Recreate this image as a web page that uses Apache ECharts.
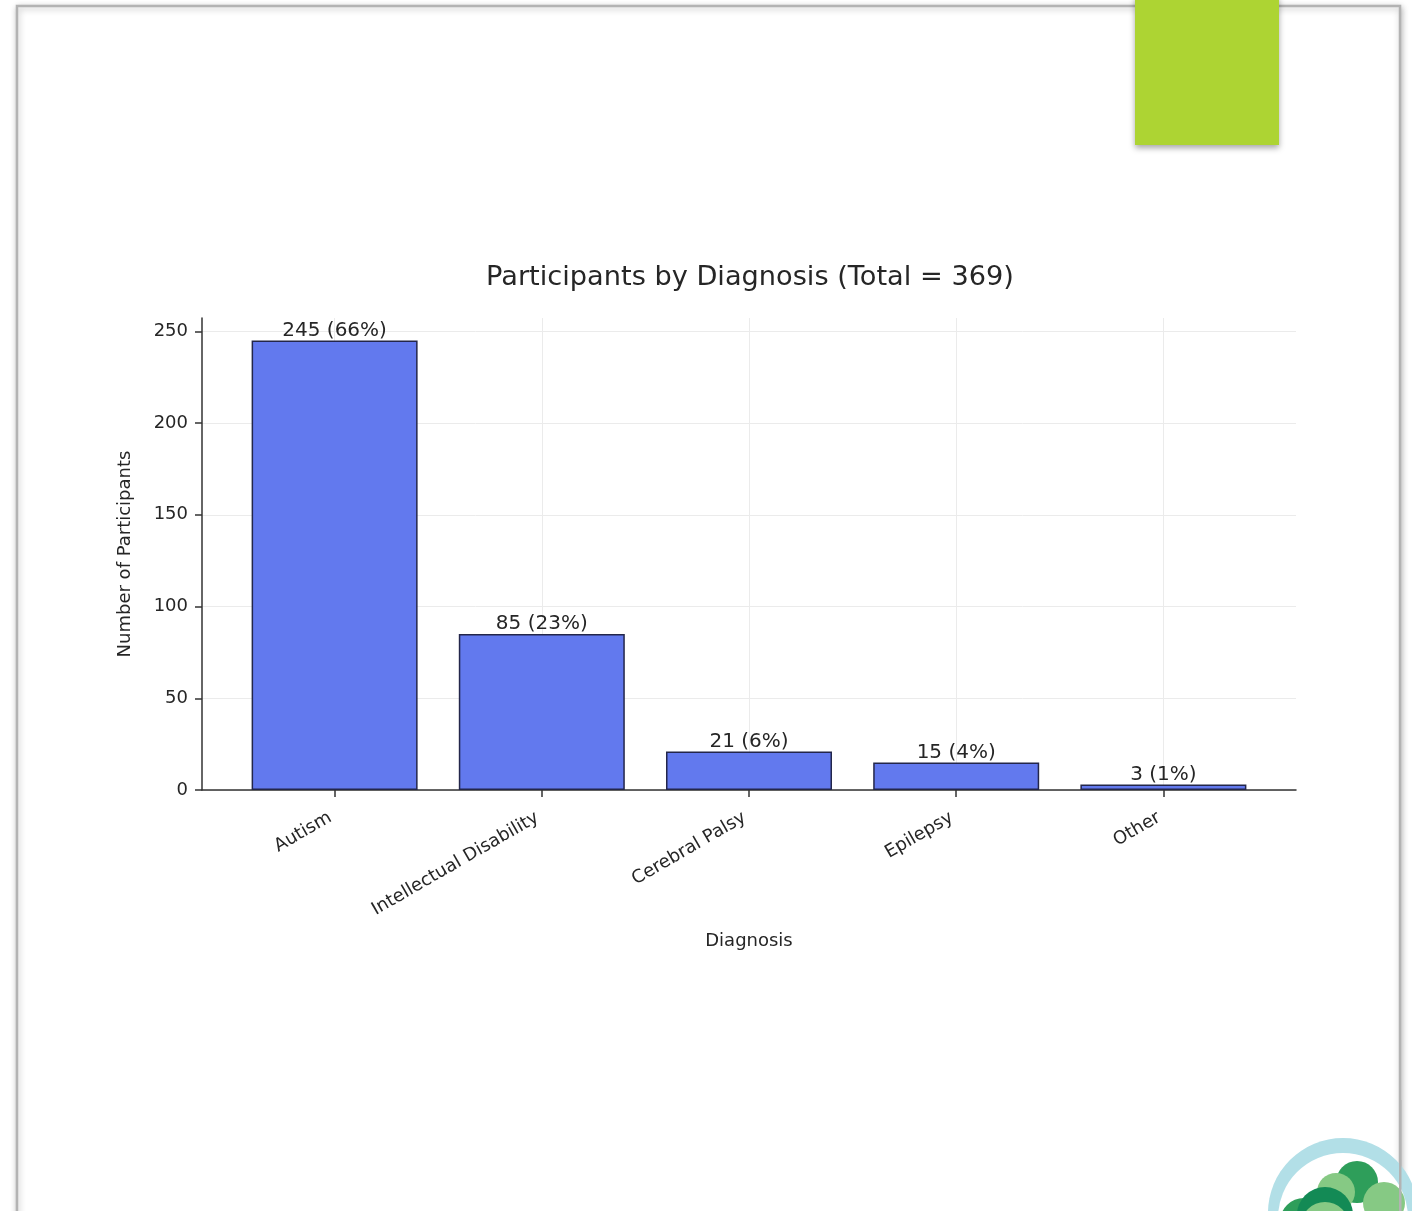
<!DOCTYPE html>
<html>
<head>
<meta charset="utf-8">
<script src="https://cdn.jsdelivr.net/npm/echarts@6/dist/echarts.min.js"></script>
<style>
html,body{margin:0;padding:0;background:#fff;}
#chart{width:1412px;height:1211px;}
</style>
</head>
<body>
<div id="chart"></div>
<script>
const categories = ['Autism', 'Intellectual Disability', 'Cerebral Palsy', 'Epilepsy', 'Other'];
const counts = [245, 85, 21, 15, 3];
const yTicks = [0, 50, 100, 150, 200, 250];
const titleText = 'Participants by Diagnosis (Total = 369)';
const xName = 'Diagnosis';
const yName = 'Number of Participants';

const total = counts.reduce((a, b) => a + b, 0);
const catIdx = categories.map((c, i) => i);
const barData = counts.map((v, i) => [i, v]);
const FONT = 'DejaVu Sans';
const TXT = '#262626';

const chart = echarts.init(document.getElementById('chart'), null, {renderer: 'canvas'});
chart.setOption({
  animation: false,
  backgroundColor: '#fff',
  title: {
    text: titleText,
    left: 745,
    top: 259,
    textAlign: 'center',
    textStyle: {fontFamily: FONT, fontSize: 27.2, fontWeight: 'normal', color: TXT}
  },
  grid: {left: 202, right: 116, top: 318, bottom: 421, containLabel: false},
  xAxis: {
    type: 'value',
    min: -0.64,
    max: 4.64,
    name: xName,
    nameLocation: 'middle',
    nameGap: 142,
    nameTextStyle: {fontFamily: FONT, fontSize: 18, color: TXT},
    axisLine: {show: true, onZero: false, lineStyle: {color: '#333', width: 1.5}},
    axisTick: {show: true, customValues: catIdx, length: 7, lineStyle: {color: '#333', width: 1.5}},
    axisLabel: {
      customValues: catIdx,
      rotate: 30,
      margin: 24,
      padding: [0, 5, 0, 0],
      fontFamily: FONT, fontSize: 18, color: TXT,
      formatter: v => categories[Math.round(v)] || ''
    },
    splitLine: {show: true, lineStyle: {color: '#ebebeb', width: 1}}
  },
  yAxis: {
    type: 'value',
    min: 0,
    max: 257.25,
    name: yName,
    nameLocation: 'middle',
    nameGap: 68,
    nameTextStyle: {fontFamily: FONT, fontSize: 18, color: TXT},
    axisLine: {show: true, onZero: false, lineStyle: {color: '#333', width: 1.5}},
    axisTick: {show: true, customValues: yTicks, length: 7, lineStyle: {color: '#333', width: 1.5}},
    axisLabel: {customValues: yTicks, margin: 14, fontFamily: FONT, fontSize: 18, color: TXT},
    splitLine: {show: true, lineStyle: {color: '#ebebeb', width: 1}}
  },
  series: [{
    type: 'bar',
    data: barData,
    barWidth: 166,
    itemStyle: {color: '#6279ee', borderColor: '#23264a', borderWidth: 1.5},
    label: {
      show: true,
      position: 'top',
      distance: 0,
      fontFamily: FONT, fontSize: 20, color: TXT,
      formatter: p => p.value[1] + ' (' + Math.round(p.value[1] / total * 100) + '%)'
    }
  }],
  graphic: [
    // page frame with soft shadow
    {type: 'rect', z: -10, shape: {x: 17, y: 6, width: 1383, height: 1240},
     style: {fill: '#fff', stroke: '#b3b3b3', lineWidth: 2.5, shadowBlur: 6, shadowColor: 'rgba(0,0,0,0.25)', shadowOffsetX: 1, shadowOffsetY: 2}},
    // green accent block
    {type: 'rect', z: 10, shape: {x: 1135, y: -5, width: 144, height: 150},
     style: {fill: '#add433', shadowBlur: 6, shadowColor: 'rgba(0,0,0,0.35)', shadowOffsetY: 3}},
    // logo (decoration)
    {type: 'group', z: 10, children: [
      {type: 'circle', shape: {cx: 1343, cy: 1213, r: 75}, style: {fill: '#b2dfe7'}},
      {type: 'circle', shape: {cx: 1343, cy: 1218, r: 65}, style: {fill: '#fff'}},
      {type: 'circle', shape: {cx: 1357, cy: 1182, r: 21}, style: {fill: '#2e9e5a'}},
      {type: 'circle', shape: {cx: 1336, cy: 1192, r: 19}, style: {fill: '#86c984'}},
      {type: 'circle', shape: {cx: 1384, cy: 1203, r: 21}, style: {fill: '#86c984'}},
      {type: 'circle', shape: {cx: 1304, cy: 1222, r: 24}, style: {fill: '#2e9e5a'}},
      {type: 'circle', shape: {cx: 1325, cy: 1215, r: 28}, style: {fill: '#138a55'}},
      {type: 'circle', shape: {cx: 1325, cy: 1226, r: 24}, style: {fill: '#86c984'}},
      {type: 'rect', shape: {x: 1399, y: 1100, width: 2.5, height: 120}, style: {fill: '#b3b3b3'}}
    ]}
  ]
});
</script>
</body>
</html>
